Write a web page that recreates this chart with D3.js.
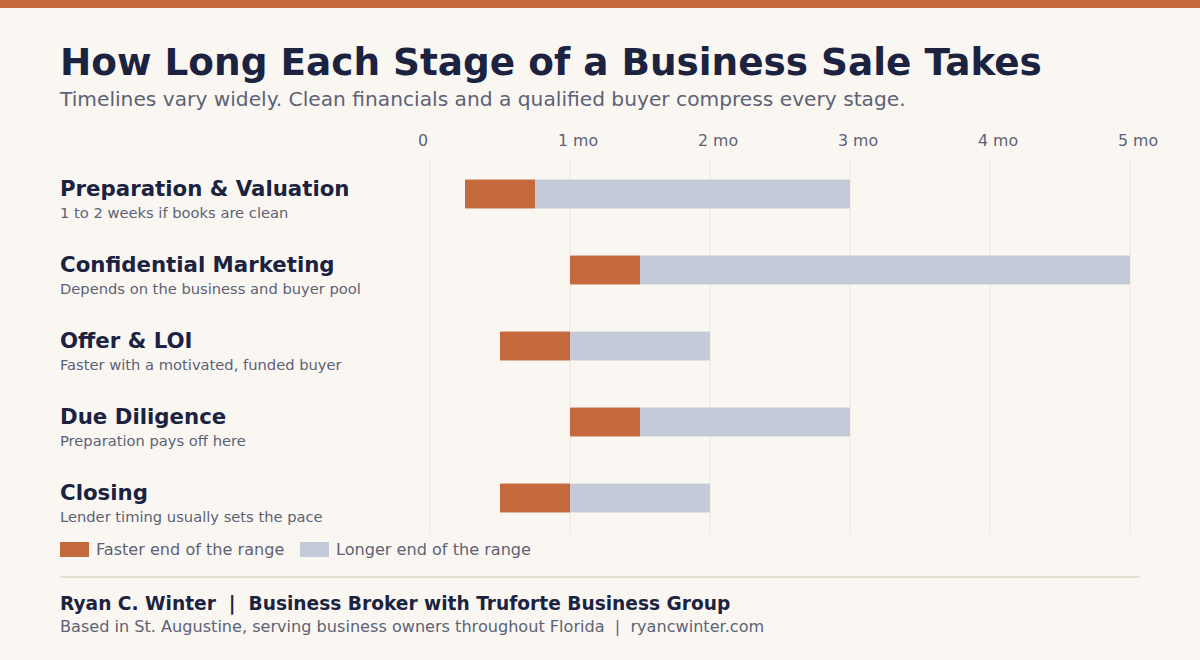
<!DOCTYPE html>
<html><head><meta charset="utf-8">
<script src="https://cdn.jsdelivr.net/npm/d3@7"></script>
<style>
body{margin:0;background:#faf7f3;}
svg{display:block;font-family:"DejaVu Sans",sans-serif;}
</style></head>
<body><svg id="c" width="1200" height="660"></svg>
<script>
const stages = ["Preparation & Valuation","Confidential Marketing","Offer & LOI","Due Diligence","Closing"];
const notes = ["1 to 2 weeks if books are clean","Depends on the business and buyer pool","Faster with a motivated, funded buyer","Preparation pays off here","Lender timing usually sets the pace"];
const fastStart = [0.25,1,0.5,1,0.5];
const fastEnd = [0.75,1.5,1,1.5,1];
const longEnd = [3,5,2,3,2];
const tickValues = [0,1,2,3,4,5];
const tickLabels = ["0","1 mo","2 mo","3 mo","4 mo","5 mo"];
const legendLabels = ["Faster end of the range","Longer end of the range"];

const C = {orange:"#c4693c", gray:"#c5cad8", navy:"#1b2340", muted:"#5d6275", grid:"#ebe6de"};
const svg = d3.select("#c");
svg.append("rect").attr("x",0).attr("y",0).attr("width",1200).attr("height",8).attr("fill",C.orange);
svg.append("text").attr("x",60).attr("y",75).attr("fill",C.navy).attr("font-size",37.4).attr("font-weight","bold").text("How Long Each Stage of a Business Sale Takes");
svg.append("text").attr("x",60).attr("y",106).attr("fill",C.muted).attr("font-size",20.2).text("Timelines vary widely. Clean financials and a qualified buyer compress every stage.");

const x = d3.scaleLinear().domain([0,5]).range([430,1130]);
const y = d3.scaleBand().domain(stages).range([156,536]).paddingInner(0.62).paddingOuter(0.31);

const g = svg.append("g");
g.selectAll("line.grid").data(tickValues).join("line").attr("class","grid")
  .attr("x1",d=>x(d)).attr("x2",d=>x(d)).attr("y1",158).attr("y2",534)
  .attr("stroke",C.grid).attr("stroke-width",1);
g.selectAll("text.tick").data(tickValues).join("text").attr("class","tick")
  .attr("x",d=>x(d)-12).attr("y",146).attr("fill",C.muted).attr("font-size",15.8)
  .text((d,i)=>tickLabels[i]);

const rows = stages.map((s,i)=>({s,i}));
g.selectAll("rect.long").data(rows).join("rect").attr("class","long")
  .attr("x",d=>x(fastEnd[d.i])).attr("width",d=>x(longEnd[d.i])-x(fastEnd[d.i]))
  .attr("y",d=>y(d.s)).attr("height",y.bandwidth()).attr("fill",C.gray);
g.selectAll("rect.fast").data(rows).join("rect").attr("class","fast")
  .attr("x",d=>x(fastStart[d.i])).attr("width",d=>x(fastEnd[d.i])-x(fastStart[d.i]))
  .attr("y",d=>y(d.s)).attr("height",y.bandwidth()).attr("fill",C.orange);

g.selectAll("text.stage").data(rows).join("text").attr("class","stage")
  .attr("x",60).attr("y",d=>y(d.s)+16).attr("fill",C.navy).attr("font-size",21.3).attr("font-weight","bold").text(d=>d.s);
g.selectAll("text.note").data(rows).join("text").attr("class","note")
  .attr("x",60).attr("y",d=>y(d.s)+38).attr("fill",C.muted).attr("font-size",14.7).text(d=>notes[d.i]);

const leg = svg.append("g");
const lx = [60,300];
const lc = [C.orange,C.gray];
legendLabels.forEach((t,i)=>{
  leg.append("rect").attr("x",lx[i]).attr("y",542).attr("width",29).attr("height",15).attr("fill",lc[i]);
  leg.append("text").attr("x",lx[i]+36).attr("y",555).attr("fill",C.muted).attr("font-size",16.1).text(t);
});

svg.append("line").attr("x1",60).attr("x2",1140).attr("y1",577).attr("y2",577).attr("stroke","#e6e0d4").attr("stroke-width",2);
svg.append("text").attr("x",60).attr("y",610).attr("fill",C.navy).attr("font-size",18.6).attr("font-weight","bold").attr("xml:space","preserve").text("Ryan C. Winter  |  Business Broker with Truforte Business Group");
svg.append("text").attr("x",60).attr("y",632).attr("fill",C.muted).attr("font-size",16.1).attr("xml:space","preserve").text("Based in St. Augustine, serving business owners throughout Florida  |  ryancwinter.com");
</script></body></html>
